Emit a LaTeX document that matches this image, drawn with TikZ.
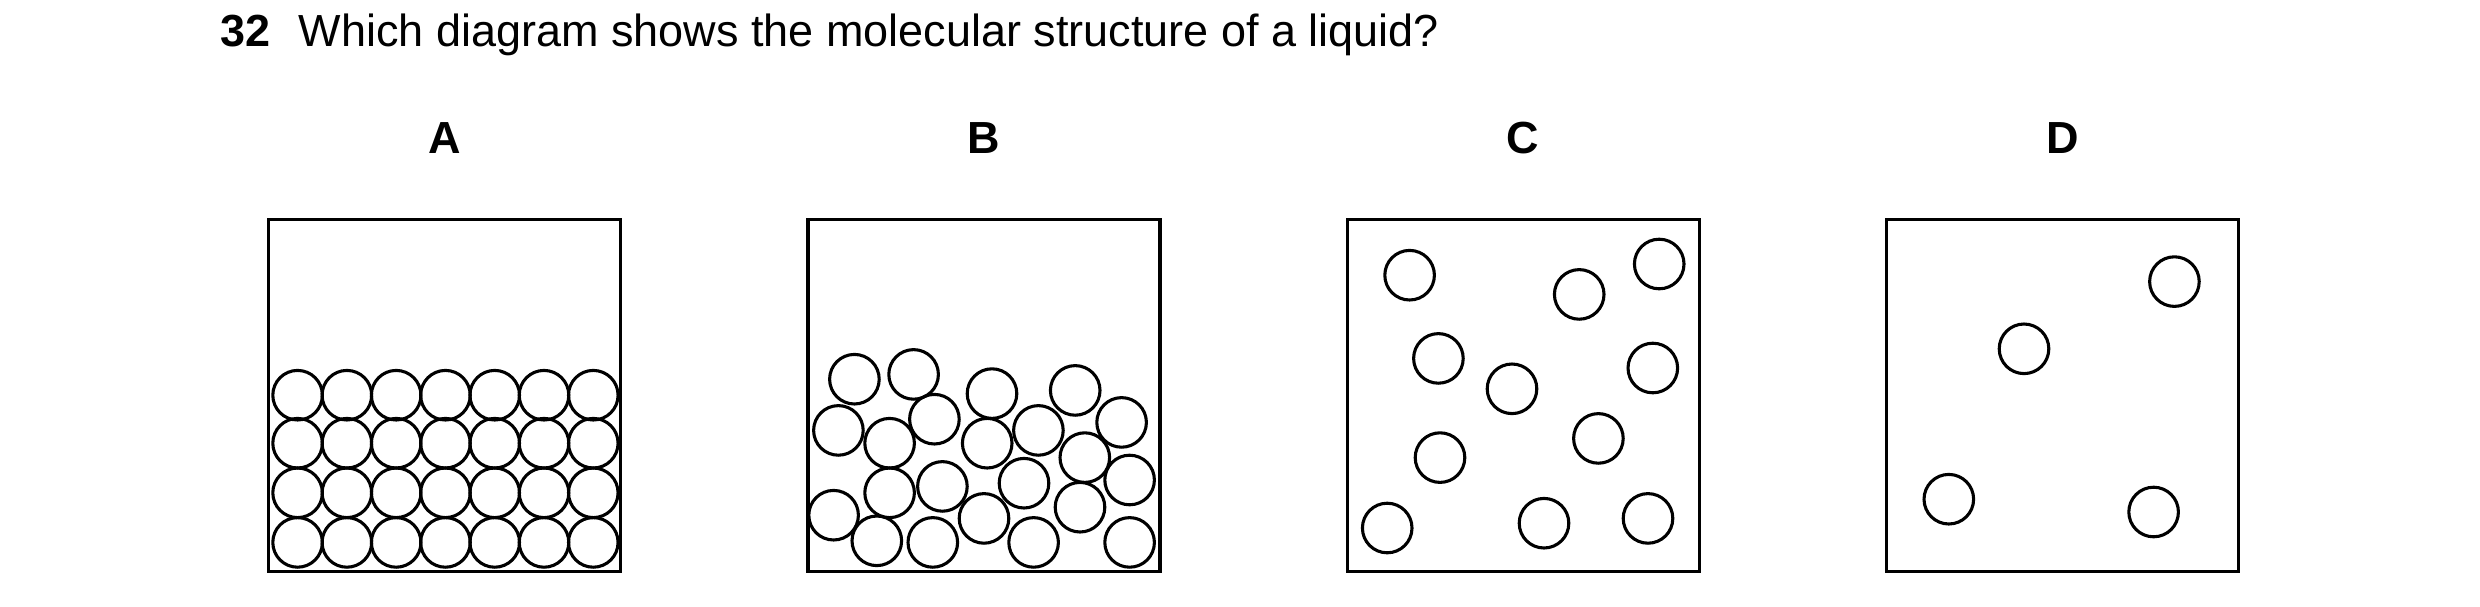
\documentclass[tikz,border=0pt]{standalone}
\usepackage{fontspec}
\setmainfont{Liberation Sans}

\begin{document}
\begin{tikzpicture}[x=0.02cm,y=-0.02cm,line width=1.1pt,
    mol/.style={draw,circle,minimum size=0.62cm,inner sep=0pt},
    lbl/.style={font=\fontsize{16}{19}\selectfont\bfseries}]
        \useasboundingbox (0,0) rectangle (1550,379);

        \node[lbl,anchor=base west] (num) at (131,29) {32};
        \node[font=\fontsize{16}{19}\selectfont,anchor=base west] (question) at (180,29) {Which diagram shows the molecular structure of a liquid?};

        % containers
        \foreach \l/\x in {A/168,B/505,C/842,D/1179} {
          \draw (\x,137) rectangle ++(220,220);
          \node[lbl] (lbl\l) at (\x+110,86) {\l};
        }

        % A: solid
        \foreach \i in {0,...,6} {
          \foreach \y in {247,277,308,339} {
            \node[mol] at (186+30.8*\i,\y) {};
          }
        }

        % B: liquid
        \foreach \x/\y in {534/237,571/234,620/246,672/244,524/269,556/277,584/262,617/277,
                           649/269,701/264,678/286,706/300,556/308,589/304,640/302,675/317,
                           521/322,548/338,583/339,615/324,646/339,706/339} {
          \node[mol] at (\x,\y) {};
        }

        % C: gas
        \foreach \x/\y in {881/172,987/184,1037/165,899/224,945/243,1033/230,999/274,900/286,
                           867/330,965/327,1030/324} {
          \node[mol] at (\x,\y) {};
        }

        % D
        \foreach \x/\y in {1359/176,1265/218,1218/312,1346/320} {
          \node[mol] at (\x,\y) {};
        }
      \end{tikzpicture}
\end{document}
